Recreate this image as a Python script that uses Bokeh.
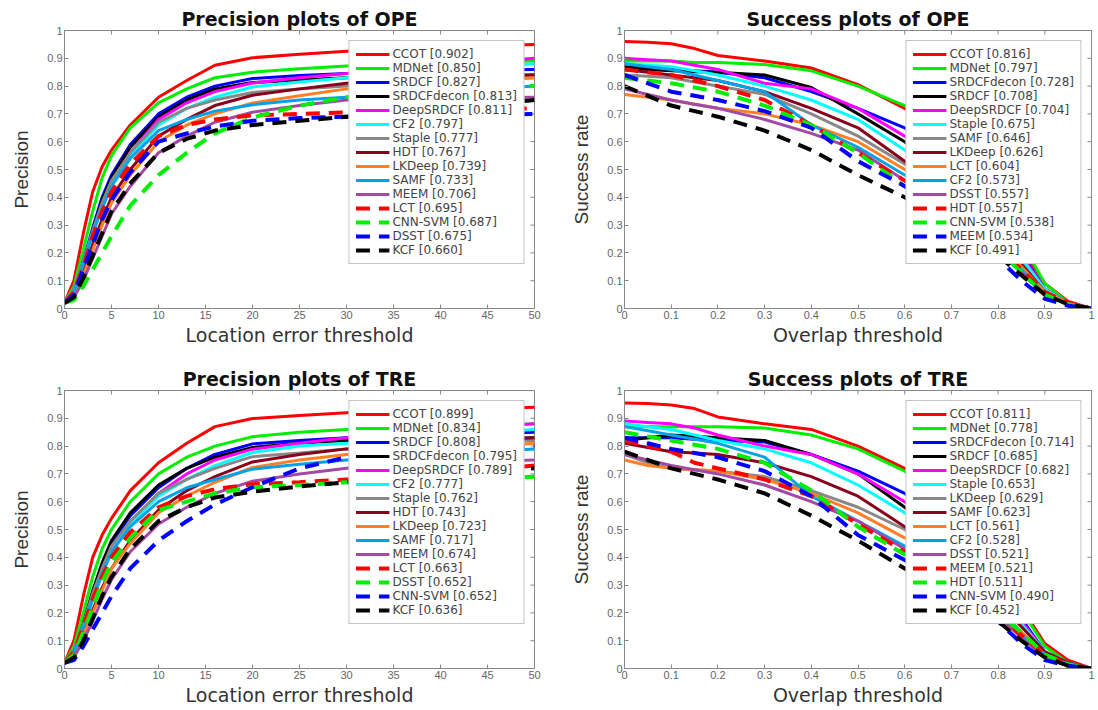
from bokeh.plotting import figure
from bokeh.layouts import column, row
from bokeh.models import FixedTicker, Range1d
from bokeh.embed import file_html
from bokeh.resources import INLINE

# ---------------- data ----------------
prec_x = [0, 1, 2, 3, 4, 5, 7, 10, 13, 16, 20, 25, 30, 40, 50]
succ_x = [0, 0.05, 0.1, 0.15, 0.2, 0.3, 0.4, 0.5, 0.6, 0.7, 0.8, 0.85, 0.9, 0.95, 1.0]

# Precision plots of OPE
ope_prec_names = ["CCOT", "MDNet", "SRDCF", "SRDCFdecon", "DeepSRDCF", "CF2", "Staple", "HDT",
                  "LKDeep", "SAMF", "MEEM", "LCT", "CNN-SVM", "DSST", "KCF"]
ope_prec_scores = ["0.902", "0.850", "0.827", "0.813", "0.811", "0.797", "0.777", "0.767",
                   "0.739", "0.733", "0.706", "0.695", "0.687", "0.675", "0.660"]
ope_prec_y = [
    [0.02, 0.10, 0.27, 0.42, 0.51, 0.57, 0.66, 0.76, 0.82, 0.875, 0.902, 0.915, 0.925, 0.94, 0.95],
    [0.02, 0.08, 0.21, 0.35, 0.47, 0.55, 0.65, 0.74, 0.79, 0.83, 0.850, 0.862, 0.872, 0.885, 0.89],
    [0.02, 0.06, 0.17, 0.29, 0.40, 0.48, 0.59, 0.70, 0.76, 0.80, 0.827, 0.838, 0.845, 0.855, 0.86],
    [0.02, 0.06, 0.16, 0.28, 0.39, 0.47, 0.58, 0.69, 0.75, 0.79, 0.813, 0.822, 0.83, 0.838, 0.84],
    [0.02, 0.06, 0.16, 0.27, 0.37, 0.45, 0.56, 0.68, 0.74, 0.78, 0.811, 0.83, 0.845, 0.875, 0.90],
    [0.02, 0.06, 0.16, 0.27, 0.37, 0.45, 0.55, 0.66, 0.72, 0.76, 0.797, 0.815, 0.83, 0.86, 0.88],
    [0.02, 0.07, 0.17, 0.28, 0.38, 0.46, 0.56, 0.67, 0.72, 0.75, 0.777, 0.79, 0.80, 0.815, 0.83],
    [0.02, 0.05, 0.13, 0.23, 0.32, 0.40, 0.50, 0.62, 0.68, 0.73, 0.767, 0.79, 0.81, 0.83, 0.84],
    [0.02, 0.05, 0.12, 0.21, 0.30, 0.38, 0.48, 0.60, 0.66, 0.70, 0.739, 0.765, 0.79, 0.815, 0.83],
    [0.02, 0.06, 0.16, 0.27, 0.36, 0.44, 0.54, 0.64, 0.68, 0.71, 0.733, 0.75, 0.76, 0.78, 0.80],
    [0.02, 0.04, 0.10, 0.18, 0.26, 0.34, 0.44, 0.56, 0.62, 0.67, 0.706, 0.73, 0.75, 0.755, 0.76],
    [0.02, 0.06, 0.15, 0.26, 0.35, 0.42, 0.52, 0.62, 0.66, 0.68, 0.695, 0.70, 0.705, 0.715, 0.72],
    [0.02, 0.03, 0.08, 0.14, 0.20, 0.26, 0.37, 0.48, 0.56, 0.63, 0.687, 0.73, 0.76, 0.785, 0.80],
    [0.02, 0.05, 0.14, 0.23, 0.32, 0.39, 0.49, 0.60, 0.63, 0.655, 0.675, 0.685, 0.69, 0.695, 0.70],
    [0.02, 0.04, 0.11, 0.19, 0.27, 0.35, 0.45, 0.56, 0.61, 0.64, 0.660, 0.675, 0.69, 0.72, 0.75],
]

# Success plots of OPE
ope_succ_names = ["CCOT", "MDNet", "SRDCFdecon", "SRDCF", "DeepSRDCF", "Staple", "SAMF", "LKDeep",
                  "LCT", "CF2", "DSST", "HDT", "CNN-SVM", "MEEM", "KCF"]
ope_succ_scores = ["0.816", "0.797", "0.728", "0.708", "0.704", "0.675", "0.646", "0.626",
                   "0.604", "0.573", "0.557", "0.557", "0.538", "0.534", "0.491"]
ope_succ_y = [
    [0.96, 0.958, 0.952, 0.935, 0.91, 0.89, 0.865, 0.805, 0.72, 0.60, 0.36, 0.22, 0.09, 0.025, 0.0],
    [0.89, 0.89, 0.89, 0.885, 0.885, 0.878, 0.855, 0.80, 0.73, 0.60, 0.38, 0.24, 0.09, 0.02, 0.0],
    [0.87, 0.865, 0.86, 0.855, 0.85, 0.83, 0.78, 0.72, 0.65, 0.52, 0.32, 0.20, 0.07, 0.02, 0.0],
    [0.87, 0.86, 0.855, 0.852, 0.85, 0.84, 0.795, 0.70, 0.60, 0.47, 0.29, 0.18, 0.07, 0.02, 0.0],
    [0.90, 0.895, 0.89, 0.875, 0.86, 0.81, 0.79, 0.72, 0.62, 0.50, 0.30, 0.19, 0.07, 0.02, 0.0],
    [0.88, 0.875, 0.87, 0.855, 0.84, 0.80, 0.75, 0.68, 0.57, 0.45, 0.28, 0.18, 0.07, 0.02, 0.0],
    [0.84, 0.835, 0.83, 0.815, 0.80, 0.77, 0.70, 0.62, 0.52, 0.40, 0.24, 0.15, 0.06, 0.02, 0.0],
    [0.86, 0.85, 0.84, 0.83, 0.82, 0.78, 0.72, 0.65, 0.53, 0.41, 0.25, 0.16, 0.06, 0.02, 0.0],
    [0.77, 0.76, 0.75, 0.735, 0.72, 0.70, 0.66, 0.60, 0.50, 0.38, 0.23, 0.15, 0.06, 0.02, 0.0],
    [0.88, 0.87, 0.86, 0.84, 0.82, 0.78, 0.66, 0.58, 0.48, 0.37, 0.22, 0.14, 0.05, 0.015, 0.0],
    [0.79, 0.77, 0.75, 0.735, 0.72, 0.68, 0.63, 0.57, 0.46, 0.35, 0.21, 0.13, 0.05, 0.015, 0.0],
    [0.86, 0.85, 0.84, 0.82, 0.80, 0.75, 0.66, 0.56, 0.46, 0.36, 0.22, 0.14, 0.06, 0.02, 0.0],
    [0.83, 0.82, 0.81, 0.795, 0.78, 0.73, 0.66, 0.56, 0.44, 0.34, 0.21, 0.13, 0.05, 0.015, 0.0],
    [0.84, 0.81, 0.78, 0.765, 0.75, 0.71, 0.65, 0.53, 0.44, 0.32, 0.18, 0.10, 0.035, 0.01, 0.0],
    [0.80, 0.765, 0.73, 0.71, 0.69, 0.64, 0.57, 0.48, 0.40, 0.30, 0.19, 0.12, 0.05, 0.015, 0.0],
]

# Precision plots of TRE
tre_prec_names = ["CCOT", "MDNet", "SRDCF", "SRDCFdecon", "DeepSRDCF", "CF2", "Staple", "HDT",
                  "LKDeep", "SAMF", "MEEM", "LCT", "DSST", "CNN-SVM", "KCF"]
tre_prec_scores = ["0.899", "0.834", "0.808", "0.795", "0.789", "0.777", "0.762", "0.743",
                   "0.723", "0.717", "0.674", "0.663", "0.652", "0.652", "0.636"]
tre_prec_y = [
    [0.02, 0.10, 0.26, 0.40, 0.48, 0.54, 0.64, 0.74, 0.81, 0.87, 0.899, 0.91, 0.92, 0.93, 0.94],
    [0.02, 0.08, 0.20, 0.33, 0.43, 0.50, 0.60, 0.70, 0.76, 0.80, 0.834, 0.85, 0.86, 0.872, 0.88],
    [0.02, 0.06, 0.16, 0.27, 0.37, 0.45, 0.55, 0.65, 0.72, 0.77, 0.808, 0.82, 0.83, 0.84, 0.85],
    [0.02, 0.06, 0.16, 0.28, 0.38, 0.46, 0.56, 0.66, 0.72, 0.76, 0.795, 0.81, 0.82, 0.825, 0.83],
    [0.02, 0.06, 0.15, 0.25, 0.34, 0.42, 0.52, 0.63, 0.70, 0.75, 0.789, 0.81, 0.83, 0.86, 0.88],
    [0.02, 0.06, 0.15, 0.25, 0.34, 0.42, 0.52, 0.62, 0.68, 0.73, 0.777, 0.80, 0.81, 0.84, 0.86],
    [0.02, 0.07, 0.16, 0.27, 0.36, 0.44, 0.53, 0.63, 0.68, 0.72, 0.762, 0.775, 0.79, 0.805, 0.82],
    [0.02, 0.05, 0.12, 0.21, 0.29, 0.36, 0.46, 0.57, 0.64, 0.69, 0.743, 0.77, 0.79, 0.81, 0.83],
    [0.02, 0.05, 0.12, 0.20, 0.28, 0.36, 0.45, 0.56, 0.62, 0.67, 0.723, 0.75, 0.77, 0.79, 0.81],
    [0.02, 0.06, 0.15, 0.25, 0.34, 0.42, 0.51, 0.60, 0.65, 0.68, 0.717, 0.735, 0.75, 0.77, 0.79],
    [0.02, 0.04, 0.10, 0.17, 0.25, 0.32, 0.42, 0.52, 0.58, 0.63, 0.674, 0.70, 0.72, 0.74, 0.75],
    [0.02, 0.06, 0.15, 0.25, 0.33, 0.40, 0.49, 0.58, 0.62, 0.645, 0.663, 0.67, 0.68, 0.70, 0.73],
    [0.02, 0.05, 0.13, 0.22, 0.31, 0.38, 0.47, 0.57, 0.60, 0.63, 0.652, 0.66, 0.67, 0.68, 0.69],
    [0.02, 0.03, 0.08, 0.14, 0.20, 0.26, 0.36, 0.46, 0.53, 0.59, 0.652, 0.72, 0.76, 0.785, 0.80],
    [0.02, 0.04, 0.10, 0.18, 0.26, 0.33, 0.43, 0.53, 0.58, 0.615, 0.636, 0.655, 0.67, 0.70, 0.72],
]

# Success plots of TRE
tre_succ_names = ["CCOT", "MDNet", "SRDCFdecon", "SRDCF", "DeepSRDCF", "Staple", "LKDeep", "SAMF",
                  "LCT", "CF2", "DSST", "MEEM", "HDT", "CNN-SVM", "KCF"]
tre_succ_scores = ["0.811", "0.778", "0.714", "0.685", "0.682", "0.653", "0.629", "0.623",
                   "0.561", "0.528", "0.521", "0.521", "0.511", "0.490", "0.452"]
tre_succ_y = [
    [0.955, 0.953, 0.948, 0.935, 0.905, 0.88, 0.86, 0.80, 0.72, 0.58, 0.35, 0.22, 0.09, 0.03, 0.0],
    [0.87, 0.87, 0.87, 0.87, 0.87, 0.865, 0.84, 0.79, 0.71, 0.57, 0.34, 0.21, 0.08, 0.02, 0.0],
    [0.83, 0.83, 0.83, 0.825, 0.82, 0.815, 0.77, 0.71, 0.63, 0.49, 0.29, 0.18, 0.06, 0.02, 0.0],
    [0.82, 0.83, 0.84, 0.835, 0.83, 0.82, 0.77, 0.70, 0.58, 0.45, 0.26, 0.16, 0.06, 0.02, 0.0],
    [0.89, 0.885, 0.88, 0.865, 0.84, 0.80, 0.77, 0.70, 0.60, 0.47, 0.27, 0.17, 0.06, 0.02, 0.0],
    [0.88, 0.87, 0.86, 0.84, 0.82, 0.79, 0.74, 0.66, 0.56, 0.44, 0.26, 0.16, 0.06, 0.02, 0.0],
    [0.77, 0.74, 0.72, 0.715, 0.71, 0.69, 0.64, 0.58, 0.50, 0.38, 0.22, 0.13, 0.04, 0.01, 0.0],
    [0.81, 0.795, 0.78, 0.775, 0.77, 0.74, 0.69, 0.62, 0.51, 0.40, 0.24, 0.15, 0.06, 0.02, 0.0],
    [0.75, 0.73, 0.72, 0.715, 0.71, 0.68, 0.63, 0.56, 0.47, 0.36, 0.21, 0.13, 0.05, 0.015, 0.0],
    [0.87, 0.855, 0.84, 0.825, 0.81, 0.76, 0.62, 0.53, 0.44, 0.34, 0.20, 0.12, 0.05, 0.015, 0.0],
    [0.77, 0.75, 0.73, 0.715, 0.70, 0.66, 0.60, 0.53, 0.43, 0.33, 0.19, 0.11, 0.04, 0.01, 0.0],
    [0.82, 0.80, 0.78, 0.74, 0.72, 0.68, 0.62, 0.52, 0.42, 0.32, 0.19, 0.12, 0.05, 0.015, 0.0],
    [0.85, 0.835, 0.82, 0.805, 0.79, 0.74, 0.64, 0.51, 0.41, 0.32, 0.20, 0.13, 0.05, 0.015, 0.0],
    [0.83, 0.81, 0.79, 0.775, 0.76, 0.71, 0.62, 0.48, 0.39, 0.30, 0.17, 0.09, 0.03, 0.01, 0.0],
    [0.78, 0.75, 0.72, 0.70, 0.68, 0.63, 0.55, 0.46, 0.36, 0.27, 0.17, 0.10, 0.04, 0.01, 0.0],
]

prec_ticks = [0, 5, 10, 15, 20, 25, 30, 35, 40, 45, 50]
succ_ticks = [0, 0.1, 0.2, 0.3, 0.4, 0.5, 0.6, 0.7, 0.8, 0.9, 1]
y_ticks = [0, 0.1, 0.2, 0.3, 0.4, 0.5, 0.6, 0.7, 0.8, 0.9, 1]
y_tick_labels = ["0", "0.1", "0.2", "0.3", "0.4", "0.5", "0.6", "0.7", "0.8", "0.9", "1"]

# ---------------- styles (by rank position) ----------------
COLORS = ["#FF0000", "#00EE00", "#0000FF", "#000000", "#FF00FF", "#00FFFF", "#888888",
          "#88001B", "#FF7F27", "#00A2E8", "#A349A4",
          "#FF0000", "#00EE00", "#0000FF", "#000000"]
FONT = "Liberation Sans"
WIDE = "DejaVu Sans"
TICK_PX = 4


def style_axis(ax, label_font, label_size, label_standoff):
    ax.axis_line_color = "#888888"
    ax.major_tick_in = TICK_PX
    ax.major_tick_out = 0
    ax.minor_tick_line_color = None
    ax.major_tick_line_color = "#888888"
    ax.major_label_text_font = FONT
    ax.major_label_text_font_size = "11px"
    ax.major_label_text_color = "#666666"
    ax.axis_label_text_font = label_font
    ax.axis_label_text_font_size = label_size
    ax.axis_label_text_font_style = "normal"
    ax.axis_label_text_color = "#333333"
    ax.major_label_standoff = 2
    ax.axis_label_standoff = label_standoff


def make_panel(title, xlabel, ylabel, xs, xmax, xticks, names, scores, ys,
               width, height, bl, br, bt, bb):
    p = figure(width=width, height=height, output_backend="svg", toolbar_location=None,
               x_range=Range1d(0, xmax), y_range=Range1d(0, 1),
               min_border_left=bl, min_border_right=br, min_border_top=bt, min_border_bottom=bb)
    p.title.text = title
    p.title.align = "center"
    p.title.text_font = WIDE
    p.title.text_font_size = "19px"
    p.title.text_font_style = "bold"
    p.title.text_color = "#111111"
    p.title.standoff = 1
    p.grid.visible = False
    p.outline_line_color = "#888888"
    p.outline_line_width = 1

    p.xaxis.ticker = FixedTicker(ticks=xticks)
    p.yaxis.ticker = FixedTicker(ticks=y_ticks)
    p.yaxis.major_label_overrides = {t: s for t, s in zip(y_ticks, y_tick_labels)}
    if xmax == 1:
        p.xaxis.major_label_overrides = {t: s for t, s in zip(succ_ticks, y_tick_labels)}
    style_axis(p.xaxis[0], WIDE, "19px", 2)
    style_axis(p.yaxis[0], FONT, "19px", 12)
    p.xaxis.axis_label = xlabel
    p.yaxis.axis_label = ylabel

    # box tick marks on the top and right edges (MATLAB "box on")
    fw = width - bl - br
    fh = height - bt - bb
    p.segment(x0=xticks, y0=[1] * len(xticks), x1=xticks, y1=[1 - TICK_PX / fh] * len(xticks),
              line_color="#888888", line_width=1)
    p.segment(x0=[xmax] * len(y_ticks), y0=y_ticks, x1=[xmax * (1 - TICK_PX / fw)] * len(y_ticks),
              y1=y_ticks, line_color="#888888", line_width=1)

    for i, (n, s, y) in enumerate(zip(names, scores, ys)):
        dashed = i >= 11
        p.line(xs, y, line_color=COLORS[i], line_width=4 if dashed else 3,
               line_dash="14 9" if dashed else "solid",
               legend_label=f"{n} [{s}]")

    lg = p.legend[0]
    lg.location = "top_right"
    lg.margin = 10
    lg.padding = 6
    lg.spacing = 0
    lg.glyph_width = 34
    lg.glyph_height = 14
    lg.label_height = 14
    lg.label_standoff = 3
    lg.label_text_font = WIDE
    lg.label_text_font_size = "12px"
    lg.label_text_color = "#444444"
    lg.border_line_color = "#888888"
    lg.border_line_width = 1
    lg.background_fill_alpha = 1.0
    return p


p1 = make_panel("Precision plots of OPE", "Location error threshold", "Precision",
                prec_x, 50, prec_ticks, ope_prec_names, ope_prec_scores, ope_prec_y,
                560, 352, 64, 26, 30, 44)
p2 = make_panel("Success plots of OPE", "Overlap threshold", "Success rate",
                succ_x, 1, succ_ticks, ope_succ_names, ope_succ_scores, ope_succ_y,
                536, 352, 64, 5, 30, 44)
p3 = make_panel("Precision plots of TRE", "Location error threshold", "Precision",
                prec_x, 50, prec_ticks, tre_prec_names, tre_prec_scores, tre_prec_y,
                560, 356, 64, 26, 38, 36)
p4 = make_panel("Success plots of TRE", "Overlap threshold", "Success rate",
                succ_x, 1, succ_ticks, tre_succ_names, tre_succ_scores, tre_succ_y,
                536, 356, 64, 5, 38, 36)

layout = column(row(p1, p2), row(p3, p4))
open("out.html", "w").write(file_html(layout, INLINE))
